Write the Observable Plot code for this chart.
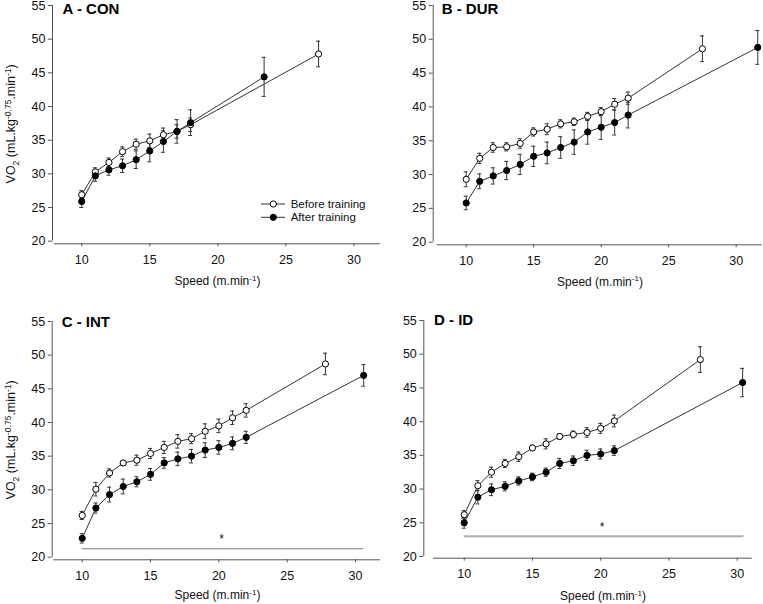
<!DOCTYPE html>
<html>
<head>
<meta charset="utf-8">
<script src="https://cdn.jsdelivr.net/npm/d3@7"></script>
<script src="https://cdn.jsdelivr.net/npm/@observablehq/plot@0.6"></script>
<style>
  html, body { margin: 0; padding: 0; background: #fff; }
  #wrap { position: relative; width: 763px; height: 604px; overflow: hidden; background: #fff; font-family: "Liberation Sans", Arial, sans-serif; }
  #wrap > .panel { position: absolute; }
  #overlay { position: absolute; left: 0; top: 0; pointer-events: none; }
</style>
</head>
<body>
<div id="wrap"></div>
<script>
// ---------- data ----------
const xTicks = [10, 15, 20, 25, 30];
const yTicks = [20, 25, 30, 35, 40, 45, 50, 55];
const panelTitles = ["A - CON", "B - DUR", "C - INT", "D - ID"];
const seriesNames = ["Before training", "After training"];
const yLabelText = ["VO", "2", " (mL.kg", "-0.75", ".min", "-1", ")"];
const xLabelText = ["Speed (m.min", "-1", ")"];

// Panel A - CON
const speedA_before = [10, 11, 12, 13, 14, 15, 16, 17, 18, 27.4];
const vo2A_before   = [26.9, 30.3, 31.7, 33.3, 34.4, 34.9, 35.8, 36.3, 37.3, 47.8];
const semA_before   = [0.6, 0.6, 0.65, 0.7, 0.75, 1.0, 1.0, 1.0, 1.0, 1.9];
const speedA_after  = [10, 11, 12, 13, 14, 15, 16, 17, 18, 23.4];
const vo2A_after    = [25.9, 29.7, 30.6, 31.2, 32.1, 33.4, 34.8, 36.3, 37.6, 44.4];
const semA_after    = [0.9, 0.8, 0.8, 1.0, 1.3, 1.6, 1.6, 1.75, 1.9, 2.9];

// Panel B - DUR
const speedB_before = [10, 11, 12, 13, 14, 15, 16, 17, 18, 19, 20, 21, 22, 27.5];
const vo2B_before   = [29.3, 32.4, 34.0, 34.1, 34.6, 36.3, 36.7, 37.5, 37.8, 38.6, 39.3, 40.4, 41.3, 48.6];
const semB_before   = [1.1, 0.75, 0.7, 0.6, 0.7, 0.6, 0.8, 0.6, 0.55, 0.6, 0.6, 0.85, 0.9, 1.9];
const speedB_after  = [10, 11, 12, 13, 14, 15, 16, 17, 18, 19, 20, 21, 22, 31.6];
const vo2B_after    = [25.8, 29.0, 29.8, 30.6, 31.5, 32.7, 33.2, 34.0, 34.8, 36.3, 37.0, 37.7, 38.8, 48.8];
const semB_after    = [1.0, 1.1, 1.2, 1.35, 1.5, 1.5, 1.6, 1.6, 1.8, 1.8, 1.8, 1.85, 1.9, 2.5];

// Panel C - INT
const speedC_before = [10, 11, 12, 13, 14, 15, 16, 17, 18, 19, 20, 21, 22, 27.8];
const vo2C_before   = [26.2, 30.1, 32.5, 34.0, 34.4, 35.4, 36.3, 37.2, 37.6, 38.7, 39.5, 40.7, 41.8, 48.7];
const semC_before   = [0.6, 1.0, 0.6, 0.3, 0.75, 0.75, 0.9, 1.0, 0.75, 1.1, 1.0, 1.0, 1.0, 1.6];
const speedC_after  = [10, 11, 12, 13, 14, 15, 16, 17, 18, 19, 20, 21, 22, 30.6];
const vo2C_after    = [22.8, 27.3, 29.3, 30.5, 31.2, 32.3, 34.0, 34.6, 35.0, 35.9, 36.3, 36.9, 37.8, 47.0];
const semC_after    = [0.7, 0.75, 1.1, 1.1, 0.75, 0.87, 0.8, 1.0, 1.0, 1.1, 1.0, 0.95, 0.9, 1.6];
const sigC = { x1: 10, x2: 30.6, y: 21.25, starX: 20.2, starY: 23.2 };

// Panel D - ID
const speedD_before = [10, 11, 12, 13, 14, 15, 16, 17, 18, 19, 20, 21, 27.3];
const vo2D_before   = [26.2, 30.5, 32.5, 33.8, 34.8, 36.1, 36.7, 37.8, 38.1, 38.4, 39.0, 40.1, 49.2];
const semD_before   = [0.6, 0.75, 0.75, 0.6, 0.7, 0.4, 0.75, 0.4, 0.5, 0.7, 0.75, 0.87, 1.9];
const speedD_after  = [10, 11, 12, 13, 14, 15, 16, 17, 18, 19, 20, 21, 30.4];
const vo2D_after    = [25.0, 28.8, 29.9, 30.4, 31.2, 31.8, 32.5, 33.8, 34.2, 35.0, 35.2, 35.7, 45.8];
const semD_after    = [0.8, 1.0, 0.87, 0.67, 0.6, 0.55, 0.6, 0.75, 0.7, 0.75, 0.75, 0.7, 2.1];
const sigD = { x1: 10, x2: 30.5, y: 23.0, starX: 20.1, starY: 24.9 };

// ---------- build ----------
function rows(xs, vs, es) { return xs.map((x, i) => ({ x, v: vs[i], e: es[i] })); }

const panels = [
  { title: panelTitles[0], before: rows(speedA_before, vo2A_before, semA_before), after: rows(speedA_after, vo2A_after, semA_after), sig: null,
    left: 0, top: 0, width: 381, xDomain: [8, 31.95], ml: 54, mr: 1, mt: 5, mb: 59.3, yDx: -2, xDy: 2.6, yLabel: true, legend: true,
    titleX: 62.5, titleY: 14, xLabX: 217.5, xLabY: 285 },
  { title: panelTitles[1], before: rows(speedB_before, vo2B_before, semB_before), after: rows(speedB_after, vo2B_after, semB_after), sig: null,
    left: 381, top: 0, width: 382, xDomain: [7.85, 31.93], ml: 55.7, mr: 1.3, mt: 5, mb: 58.3, yDx: -4, xDy: 2.6, yLabel: false, legend: false,
    titleX: 441.7, titleY: 14, xLabX: 600, xLabY: 285.5 },
  { title: panelTitles[2], before: rows(speedC_before, vo2C_before, semC_before), after: rows(speedC_after, vo2C_after, semC_after), sig: sigC,
    left: 0, top: 300, width: 381, xDomain: [7.92, 31.83], ml: 53.3, mr: 1, mt: 21, mb: 43.3, yDx: -1.6, xDy: 2.6, yLabel: true, legend: false,
    sigColor: "#7a7a7a", sigWidth: 1.1,
    titleX: 61.7, titleY: 326.7, xLabX: 217.5, xLabY: 599 },
  { title: panelTitles[3], before: rows(speedD_before, vo2D_before, semD_before), after: rows(speedD_after, vo2D_after, semD_after), sig: sigD,
    left: 381, top: 300, width: 382, xDomain: [7.75, 31.1], ml: 52, mr: 11.3, mt: 20, mb: 44, yDx: -9.7, xDy: 1.7, yLabel: false, legend: false,
    sigColor: "#b0b0b0", sigWidth: 2,
    titleX: 434, titleY: 325, xLabX: 603, xLabY: 600 }
];

const wrap = document.getElementById("wrap");
const axisColor = "#555";
const lineColor = "#333";

for (const p of panels) {
  const marks = [
    Plot.ruleY([yTicks[0]], { dy: p.xDy, stroke: axisColor }),
    Plot.ruleX([p.xDomain[0]], { dx: p.yDx, stroke: axisColor }),
    Plot.axisX({ ticks: xTicks, tickSize: 3, tickPadding: 8, dy: p.xDy, label: null, stroke: axisColor, fill: "#111" }),
    Plot.axisY({ ticks: yTicks, tickSize: 4, tickPadding: 3, dx: p.yDx, label: null, stroke: axisColor, fill: "#111" })
  ];
  if (p.sig) {
    marks.push(Plot.ruleY([p.sig], { x1: "x1", x2: "x2", y: "y", stroke: p.sigColor, strokeWidth: p.sigWidth }));
    marks.push(Plot.text([p.sig], { x: "starX", y: "starY", text: () => "*", fontSize: 12, dy: 4, fill: "#111" }));
  }
  for (const s of [p.before, p.after]) {
    marks.push(Plot.line(s, { x: "x", y: "v", stroke: lineColor, strokeWidth: 1 }));
  }
  for (const s of [p.before, p.after]) {
    marks.push(Plot.ruleX(s, { x: "x", y1: d => d.v - d.e, y2: d => d.v + d.e, stroke: lineColor, strokeWidth: 1 }));
    marks.push(Plot.ruleY(s, { x1: "x", x2: "x", y: d => d.v + d.e, insetLeft: -2, insetRight: -2, stroke: lineColor, strokeWidth: 1 }));
    marks.push(Plot.ruleY(s, { x1: "x", x2: "x", y: d => d.v - d.e, insetLeft: -2, insetRight: -2, stroke: lineColor, strokeWidth: 1 }));
  }
  for (const [s, fill] of [[p.before, "white"], [p.after, "black"]]) {
    marks.push(Plot.dot(s, { x: "x", y: "v", r: 3.1, fill, stroke: "black", strokeWidth: 1 }));
  }
  const chart = Plot.plot({
    width: p.width, height: 300,
    marginLeft: p.ml, marginRight: p.mr, marginTop: p.mt, marginBottom: p.mb,
    x: { domain: p.xDomain, ticks: xTicks },
    y: { domain: [yTicks[0], yTicks[yTicks.length - 1]], ticks: yTicks },
    style: { fontFamily: '"Liberation Sans", Arial, sans-serif', fontSize: "12.5px", color: "#111", background: "transparent", overflow: "visible" },
    marks
  });
  chart.classList.add("panel");
  chart.style.left = p.left + "px";
  chart.style.top = p.top + "px";
  wrap.appendChild(chart);
}

// ---------- overlay text (titles, axis labels, legend) ----------
const ov = d3.select(wrap).append("svg").attr("id", "overlay")
  .attr("width", 763).attr("height", 604)
  .style("font-family", '"Liberation Sans", Arial, sans-serif');

for (const p of panels) {
  ov.append("text").attr("x", p.titleX).attr("y", p.titleY)
    .attr("font-size", 15).attr("font-weight", "bold").attr("fill", "#000").text(p.title);

  const xl = ov.append("text").attr("x", p.xLabX).attr("y", p.xLabY)
    .attr("text-anchor", "middle").attr("font-size", 12).attr("fill", "#111");
  xl.append("tspan").text(xLabelText[0]);
  xl.append("tspan").attr("dy", -4.5).attr("font-size", 8).text(xLabelText[1]);
  xl.append("tspan").attr("dy", 4.5).text(xLabelText[2]);

  if (p.yLabel) {
    const cy = p.top + (p.mt + (300 - p.mb)) / 2 + 1;
    const yl = ov.append("text").attr("transform", `translate(15,${cy}) rotate(-90)`)
      .attr("text-anchor", "middle").attr("font-size", 12.5).attr("fill", "#111");
    yl.append("tspan").text(yLabelText[0]);
    yl.append("tspan").attr("dy", 3.5).attr("font-size", 8.5).text(yLabelText[1]);
    yl.append("tspan").attr("dy", -3.5).text(yLabelText[2]);
    yl.append("tspan").attr("dy", -4.5).attr("font-size", 8.5).text(yLabelText[3]);
    yl.append("tspan").attr("dy", 4.5).text(yLabelText[4]);
    yl.append("tspan").attr("dy", -4.5).attr("font-size", 8.5).text(yLabelText[5]);
    yl.append("tspan").attr("dy", 4.5).text(yLabelText[6]);
  }

  if (p.legend) {
    const items = [{ name: seriesNames[0], fill: "white", y: 204 }, { name: seriesNames[1], fill: "black", y: 217.3 }];
    for (const it of items) {
      ov.append("line").attr("x1", 261).attr("x2", 285).attr("y1", it.y).attr("y2", it.y).attr("stroke", lineColor);
      ov.append("circle").attr("cx", 273.3).attr("cy", it.y).attr("r", 3.1).attr("fill", it.fill).attr("stroke", "black");
      ov.append("text").attr("x", 290.7).attr("y", it.y + 4).attr("font-size", 11.5).attr("fill", "#111").text(it.name);
    }
  }
}
</script>
</body>
</html>
